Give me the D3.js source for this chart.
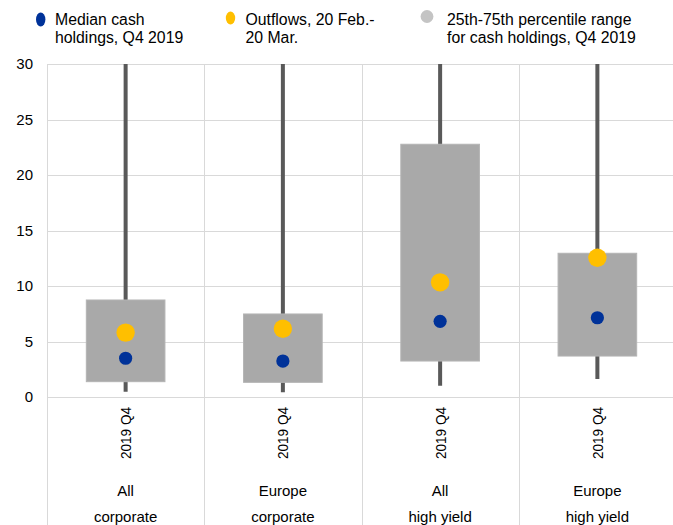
<!DOCTYPE html>
<html>
<head>
<meta charset="utf-8">
<script src="https://cdn.jsdelivr.net/npm/d3@7"></script>
<style>
  body { margin: 0; background: #fff; }
  svg { display: block; font-family: Arial, "Liberation Sans", sans-serif; }
</style>
</head>
<body>
<script>
const w = 673;
const h = 525;

// data
const categories = ["All corporate", "Europe corporate", "All high yield", "Europe high yield"];
const periodLabel = "2019 Q4";
const lineOne = ["All", "Europe", "All", "Europe"];
const lineTwo = ["corporate", "corporate", "high yield", "high yield"];
const whiskerLow = [0.48, 0.42, 1.02, 1.62];
const whiskerHigh = [30, 30, 30, 30];
const p25 = [1.38, 1.32, 3.24, 3.69];
const p75 = [8.74, 7.48, 22.77, 12.95];
const median = [3.49, 3.24, 6.82, 7.14];
const outflows = [5.8, 6.15, 10.33, 12.55];
const yTicks = [0, 5, 10, 15, 20, 25, 30];

const plotLeft = 47;
const plotRight = 676;
const plotTop = 64;
const plotBottom = 397;

const svg = d3
  .select("body")
  .append("svg")
  .attr("width", w)
  .attr("height", h);

const xScale = d3
  .scaleBand()
  .domain(categories)
  .range([plotLeft, plotRight]);
const yScale = d3
  .scaleLinear()
  .domain([0, 30])
  .range([plotBottom, plotTop]);

// horizontal gridlines
svg
  .append("g")
  .selectAll("line")
  .data(yTicks)
  .enter()
  .append("line")
  .attr("x1", plotLeft)
  .attr("x2", plotRight)
  .attr("y1", d => Math.round(yScale(d)) + 0.5)
  .attr("y2", d => Math.round(yScale(d)) + 0.5)
  .style("stroke", "#d9d9d9")
  .style("stroke-width", 1);

// vertical separators, they run down through the label area
svg
  .append("g")
  .selectAll("line")
  .data(categories)
  .enter()
  .append("line")
  .attr("x1", d => Math.round(xScale(d)) + 0.5)
  .attr("x2", d => Math.round(xScale(d)) + 0.5)
  .attr("y1", plotTop)
  .attr("y2", h)
  .style("stroke", "#d9d9d9")
  .style("stroke-width", 1);

// y axis (labels only)
const yAxis = d3.axisLeft(yScale).tickValues(yTicks).tickSize(0).tickPadding(14);
svg
  .append("g")
  .attr("transform", "translate(" + plotLeft + ",0)")
  .call(yAxis)
  .call(g => g.select(".domain").remove())
  .selectAll("text")
  .style("font-size", "15px")
  .style("font-family", "Arial, 'Liberation Sans', sans-serif")
  .style("fill", "#000");

const cx = d => xScale(d) + xScale.bandwidth() / 2;

// whiskers
svg
  .append("g")
  .selectAll("line")
  .data(categories)
  .enter()
  .append("line")
  .attr("x1", d => cx(d))
  .attr("x2", d => cx(d))
  .attr("y1", (d, i) => yScale(whiskerLow[i]))
  .attr("y2", (d, i) => yScale(whiskerHigh[i]))
  .style("stroke", "#595959")
  .style("stroke-width", 4);

// percentile boxes
const boxW = xScale.bandwidth() / 2;
svg
  .append("g")
  .selectAll("rect")
  .data(categories)
  .enter()
  .append("rect")
  .attr("x", d => cx(d) - boxW / 2)
  .attr("width", boxW)
  .attr("y", (d, i) => yScale(p75[i]))
  .attr("height", (d, i) => yScale(p25[i]) - yScale(p75[i]))
  .style("fill", "#a9a9a9")
  .style("stroke", "#b4b4b4")
  .style("stroke-width", 1);

// outflows
svg
  .append("g")
  .selectAll("circle")
  .data(categories)
  .enter()
  .append("circle")
  .attr("cx", d => cx(d))
  .attr("cy", (d, i) => yScale(outflows[i]))
  .attr("r", 9.2)
  .style("fill", "#ffbf00");

// medians
svg
  .append("g")
  .selectAll("circle")
  .data(categories)
  .enter()
  .append("circle")
  .attr("cx", d => cx(d))
  .attr("cy", (d, i) => yScale(median[i]))
  .attr("r", 6.6)
  .style("fill", "#003299");

// x labels
const xl = svg.append("g").style("font-size", "15px").style("fill", "#000");
xl.selectAll("text.period")
  .data(categories)
  .enter()
  .append("text")
  .attr("class", "period")
  .attr("transform", d => "translate(" + (cx(d) + 5.5) + ",407) rotate(-90)")
  .attr("textLength", 52)
  .attr("lengthAdjust", "spacingAndGlyphs")
  .style("text-anchor", "end")
  .text(periodLabel);
xl.selectAll("text.l1")
  .data(categories)
  .enter()
  .append("text")
  .attr("class", "l1")
  .attr("x", d => cx(d))
  .attr("y", 496)
  .style("text-anchor", "middle")
  .text((d, i) => lineOne[i]);
xl.selectAll("text.l2")
  .data(categories)
  .enter()
  .append("text")
  .attr("class", "l2")
  .attr("x", d => cx(d))
  .attr("y", 521.5)
  .style("text-anchor", "middle")
  .text((d, i) => lineTwo[i]);

// legend
const legendText = [
  ["Median cash", "holdings, Q4 2019"],
  ["Outflows, 20 Feb.-", "20 Mar."],
  ["25th-75th percentile range", "for cash holdings, Q4 2019"]
];
const legendX = [55, 245.5, 447];
const legend = svg.append("g").attr("id", "legend").style("font-size", "15.8px");

legend
  .append("ellipse")
  .attr("cx", 40.7)
  .attr("cy", 19.5)
  .attr("rx", 4.7)
  .attr("ry", 7)
  .style("fill", "#003299");
legend
  .append("ellipse")
  .attr("cx", 230.5)
  .attr("cy", 18)
  .attr("rx", 4.7)
  .attr("ry", 6.5)
  .style("fill", "#ffbf00");
legend
  .append("circle")
  .attr("cx", 427)
  .attr("cy", 16.5)
  .attr("r", 6.4)
  .style("fill", "#c4c4c4");

legendText.forEach((lines, i) => {
  const t = legend
    .append("text")
    .attr("x", legendX[i])
    .attr("y", 24.8)
    .style("fill", "#000");
  lines.forEach((s, j) => {
    t.append("tspan")
      .attr("x", legendX[i])
      .attr("dy", j === 0 ? 0 : 18.4)
      .text(s);
  });
});
</script>
</body>
</html>
